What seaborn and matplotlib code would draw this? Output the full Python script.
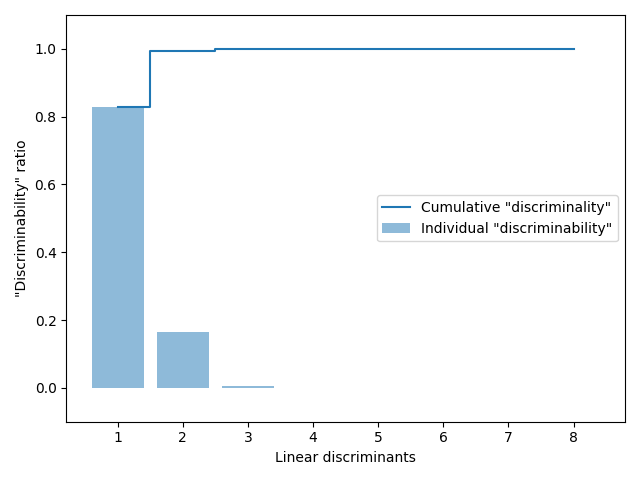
import numpy as np
import matplotlib
matplotlib.use("Agg")
import matplotlib.pyplot as plt
import seaborn as sns

discriminants = [1, 2, 3, 4, 5, 6, 7, 8]
discr = [0.829, 0.165, 0.006, 0.0, 0.0, 0.0, 0.0, 0.0]
cum_discr = np.cumsum(discr)

fig, ax = plt.subplots(figsize=(6.4, 4.8), dpi=100)
ax.bar(discriminants, discr, alpha=0.5, align="center", color="#1f77b4",
       label='Individual "discriminability"')
sns.lineplot(x=discriminants, y=cum_discr, drawstyle="steps-mid", color="#1f77b4",
             label='Cumulative "discriminality"', ax=ax)
ax.set_ylabel('"Discriminability" ratio')
ax.set_xlabel("Linear discriminants")
ax.set_ylim(-0.1, 1.1)
ax.legend(loc="right")
plt.tight_layout()
plt.savefig("out.png", dpi=100)
